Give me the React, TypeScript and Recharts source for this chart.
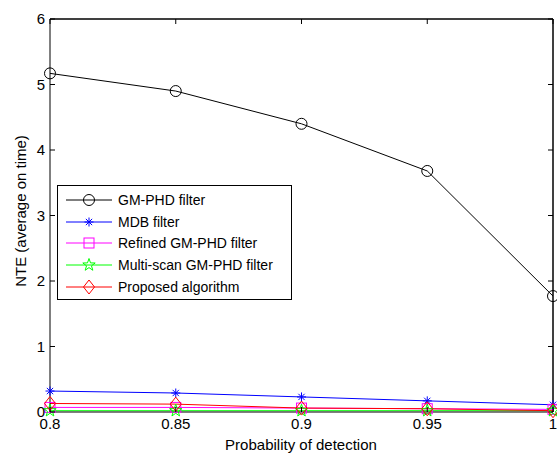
import React from 'react';
import { LineChart, Line, XAxis, YAxis, ReferenceLine, CartesianGrid } from 'recharts';

const detection = [0.8, 0.85, 0.9, 0.95, 1];
const gmPhd = [5.17, 4.9, 4.4, 3.68, 1.77];
const mdb = [0.32, 0.29, 0.23, 0.17, 0.11];
const refined = [0.07, 0.07, 0.06, 0.05, 0.04];
const multiScan = [0.02, 0.02, 0.02, 0.02, 0.02];
const proposed = [0.13, 0.12, 0.06, 0.05, 0.02];

const xTicks = [0.8, 0.85, 0.9, 0.95, 1];
const yTicks = [0, 1, 2, 3, 4, 5, 6];

const seriesNames = {
  gmPhd: 'GM-PHD filter',
  mdb: 'MDB filter',
  refined: 'Refined GM-PHD filter',
  multiScan: 'Multi-scan GM-PHD filter',
  proposed: 'Proposed algorithm',
};

const data = detection.map((d, i) => ({
  pd: d,
  gmPhd: gmPhd[i],
  mdb: mdb[i],
  refined: refined[i],
  multiScan: multiScan[i],
  proposed: proposed[i],
}));

const FONT = '"Liberation Sans", Arial, Helvetica, sans-serif';

type MarkerKind = 'circle' | 'asterisk' | 'square' | 'star' | 'diamond';

const series: { key: string; color: string; marker: MarkerKind }[] = [
  { key: 'gmPhd', color: '#000000', marker: 'circle' },
  { key: 'mdb', color: '#0000ff', marker: 'asterisk' },
  { key: 'refined', color: '#ff00ff', marker: 'square' },
  { key: 'multiScan', color: '#00ff00', marker: 'star' },
  { key: 'proposed', color: '#ff0000', marker: 'diamond' },
];

function Marker({ kind, cx, cy, color }: { kind: MarkerKind; cx: number; cy: number; color: string }) {
  if (cx == null || cy == null) return null;
  switch (kind) {
    case 'circle':
      return <circle cx={cx} cy={cy} r={5.5} fill="none" stroke={color} strokeWidth={1} />;
    case 'asterisk': {
      const r = 4.5;
      const d = r * 0.7;
      return (
        <g stroke={color} strokeWidth={1}>
          <line x1={cx} y1={cy - r} x2={cx} y2={cy + r} />
          <line x1={cx - r} y1={cy} x2={cx + r} y2={cy} />
          <line x1={cx - d} y1={cy - d} x2={cx + d} y2={cy + d} />
          <line x1={cx - d} y1={cy + d} x2={cx + d} y2={cy - d} />
        </g>
      );
    }
    case 'square':
      return <rect x={cx - 5} y={cy - 5} width={10} height={10} fill="none" stroke={color} strokeWidth={1} />;
    case 'star': {
      const pts: string[] = [];
      const R = 6.5;
      const rr = R * 0.4;
      for (let i = 0; i < 10; i++) {
        const a = -Math.PI / 2 + (i * Math.PI) / 5;
        const rad = i % 2 === 0 ? R : rr;
        pts.push(`${cx + rad * Math.cos(a)},${cy + rad * Math.sin(a)}`);
      }
      return <polygon points={pts.join(' ')} fill="none" stroke={color} strokeWidth={1} />;
    }
    case 'diamond':
      return (
        <polygon
          points={`${cx},${cy - 7} ${cx + 5.5},${cy} ${cx},${cy + 7} ${cx - 5.5},${cy}`}
          fill="none"
          stroke={color}
          strokeWidth={1}
        />
      );
  }
  return null;
}

function LegendBox() {
  const rowY = [15, 37, 58, 80, 102];
  return (
    <svg width={235} height={115} style={{ display: 'block' }}>
      <rect x={0.5} y={0.5} width={234} height={114} fill="#fff" stroke="#000" strokeWidth={1} />
      {series.map((s, i) => (
        <g key={s.key}>
          <line x1={9} y1={rowY[i]} x2={55} y2={rowY[i]} stroke={s.color} strokeWidth={1} />
          <Marker kind={s.marker} cx={32} cy={rowY[i]} color={s.color} />
          <text x={61} y={rowY[i] + 5} fontSize={14} fontFamily={FONT} fill="#000">
            {(seriesNames as any)[s.key]}
          </text>
        </g>
      ))}
    </svg>
  );
}

// Bottom axis tick: inward tick mark + label. Default tickSize 6 and tickMargin 2 put p.y 8px below the axis line.
const XTick = (p: any) => {
  const axisY = p.y - 8;
  return (
    <g>
      <line x1={p.x} y1={axisY} x2={p.x} y2={axisY - 5} stroke="#000" strokeWidth={1} />
      <text x={p.x} y={axisY + 17} textAnchor="middle" fontSize={15} fontFamily={FONT} fill="#000">
        {String(p.payload.value)}
      </text>
    </g>
  );
};

// Left axis tick: p.x is 8px left of the axis line.
const YTick = (p: any) => {
  const axisX = p.x + 8;
  return (
    <g>
      <line x1={axisX} y1={p.y} x2={axisX + 5} y2={p.y} stroke="#000" strokeWidth={1} />
      <text x={axisX - 5} y={p.y + 5} textAnchor="end" fontSize={15} fontFamily={FONT} fill="#000">
        {String(p.payload.value)}
      </text>
    </g>
  );
};

const TopTick = (p: any) => {
  const top = Math.min(p.y1, p.y2);
  return <line x1={p.x1} y1={top} x2={p.x1} y2={top + 5} stroke="#000" strokeWidth={1} />;
};
const RightTick = (p: any) => {
  const right = Math.max(p.x1, p.x2);
  return <line x1={right} y1={p.y1} x2={right - 5} y2={p.y1} stroke="#000" strokeWidth={1} />;
};

export default function App() {
  return (
    <div style={{ position: 'absolute', left: 0, top: 0, width: 557, height: 453, background: '#fff' }}>
      <LineChart width={557} height={453} data={data} margin={{ top: 19, right: 4, bottom: 0, left: 0 }}>
        <CartesianGrid
          stroke="#000"
          horizontalCoordinatesGenerator={(p: any) => [p.offset.top]}
          verticalCoordinatesGenerator={(p: any) => [p.offset.left + p.offset.width]}
        />
        <XAxis
          dataKey="pd"
          type="number"
          domain={[0.8, 1]}
          ticks={xTicks}
          height={41}
          stroke="#000"
          tickLine={false}
          tick={XTick}
        />
        <YAxis
          type="number"
          domain={[0, 6]}
          ticks={yTicks}
          width={50}
          stroke="#000"
          tickLine={false}
          tick={YTick}
        />
        <ReferenceLine y={6} stroke="#000" />
        <ReferenceLine x={1} stroke="#000" />
        {xTicks.map((t) => (
          <ReferenceLine key={`tx${t}`} x={t} stroke="#000" shape={TopTick} />
        ))}
        {yTicks.map((t) => (
          <ReferenceLine key={`ty${t}`} y={t} stroke="#000" shape={RightTick} />
        ))}
        {series.map((s) => (
          <Line
            key={s.key}
            dataKey={s.key}
            name={(seriesNames as any)[s.key]}
            stroke={s.color}
            isAnimationActive={false}
            dot={(p: any) => <Marker key={`${s.key}-${p.index}`} kind={s.marker} cx={p.cx} cy={p.cy} color={s.color} />}
          />
        ))}
      </LineChart>
      <svg width={557} height={453} style={{ position: 'absolute', left: 0, top: 0, pointerEvents: 'none' }}>
        <text x={301} y={450} textAnchor="middle" fontSize={15} fontFamily={FONT} fill="#000">
          Probability of detection
        </text>
        <text x={26} y={211} transform="rotate(-90, 26, 211)" textAnchor="middle" fontSize={15} fontFamily={FONT} fill="#000">
          NTE (average on time)
        </text>
      </svg>
      <div style={{ position: 'absolute', left: 57, top: 185, width: 235, height: 115 }}>
        <LegendBox />
      </div>
    </div>
  );
}
